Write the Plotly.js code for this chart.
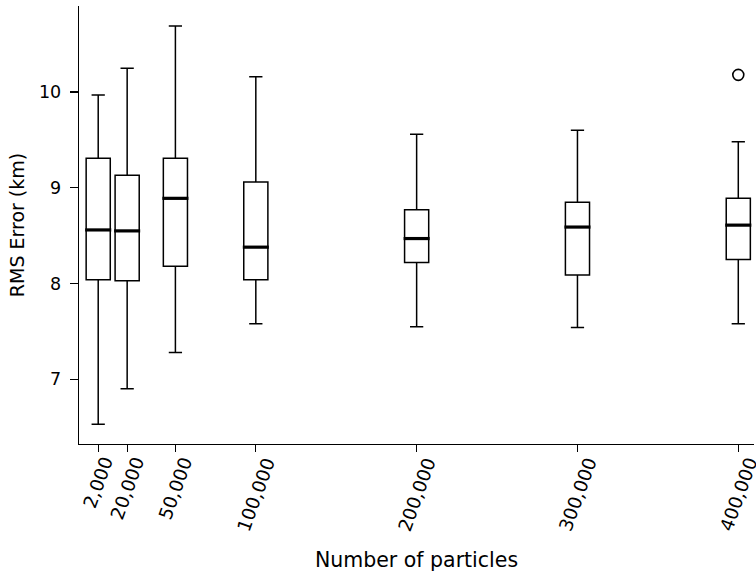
<!DOCTYPE html>
<html>
<head>
<meta charset="utf-8">
<script src="https://cdn.plot.ly/plotly-3.0.1.min.js"></script>
<style>html,body{margin:0;padding:0;background:#fff;}#chart{width:756px;height:577px;}</style>
</head>
<body>
<div id="chart"></div>
<script>
const particles = [2000, 20000, 50000, 100000, 200000, 300000, 400000];
const tickLabels = ["2,000", "20,000", "50,000", "100,000", "200,000", "300,000", "400,000"];
const lowerWhisker = [6.53, 6.90, 7.28, 7.58, 7.55, 7.54, 7.58];
const q1 = [8.04, 8.03, 8.18, 8.04, 8.22, 8.09, 8.25];
const median = [8.56, 8.55, 8.89, 8.38, 8.47, 8.59, 8.61];
const q3 = [9.31, 9.13, 9.31, 9.06, 8.77, 8.85, 8.89];
const upperWhisker = [9.97, 10.25, 10.69, 10.16, 9.56, 9.60, 9.48];
const outlierX = [400000];
const outlierY = [10.18];

const boxWidth = 15000;
const FONT = "DejaVu Sans, sans-serif";

const traces = [{
  type: "box",
  x: particles,
  q1: q1,
  median: median,
  q3: q3,
  lowerfence: lowerWhisker,
  upperfence: upperWhisker,
  width: boxWidth,
  whiskerwidth: 0.55,
  fillcolor: "rgba(0,0,0,0)",
  line: {color: "#000", width: 1.5},
  hoverinfo: "skip",
  showlegend: false
}];

// thick median bars derived from data
const mx = [], my = [];
particles.forEach((p, i) => {
  mx.push(p - boxWidth / 2 - 600, p + boxWidth / 2 + 600, null);
  my.push(median[i], median[i], null);
});
traces.push({
  type: "scatter", mode: "lines", x: mx, y: my,
  line: {color: "#000", width: 3.2},
  hoverinfo: "skip", showlegend: false
});
traces.push({
  type: "scatter", mode: "markers", x: outlierX, y: outlierY,
  marker: {symbol: "circle-open", size: 11, color: "#000", line: {width: 1.6, color: "#000"}},
  hoverinfo: "skip", showlegend: false
});

const annotations = particles.map((p, i) => ({
  x: p, xref: "x", y: 0, yref: "paper",
  text: tickLabels[i], showarrow: false,
  textangle: -70, xanchor: "center", yanchor: "top", yshift: -9,
  borderpad: 0,
  font: {family: FONT, size: 18.5, color: "#000"}
}));

const layout = {
  width: 756, height: 577,
  margin: {l: 79, r: 2, t: 6, b: 133},
  paper_bgcolor: "#fff", plot_bgcolor: "#fff",
  font: {family: FONT, color: "#000"},
  showlegend: false,
  xaxis: {
    range: [-9944, 409770],
    tickvals: particles,
    showticklabels: false,
    ticks: "outside", ticklen: 7, tickwidth: 1.3, tickcolor: "#000",
    showline: true, linecolor: "#000", linewidth: 1.3,
    showgrid: false, zeroline: false,
    title: {text: "Number of particles", font: {family: FONT, size: 20.5, color: "#000"}, standoff: 101},
    automargin: false
  },
  yaxis: {
    range: [6.324, 10.899],
    tickvals: [7, 8, 9, 10],
    ticktext: ["7", "8", "9", "10"],
    ticks: "outside", ticklen: 8, tickwidth: 1.3, tickcolor: "#000",
    ticklabelstandoff: 5,
    tickfont: {family: FONT, size: 17.5, color: "#000"},
    showline: true, linecolor: "#000", linewidth: 1.3,
    showgrid: false, zeroline: false,
    title: {text: "RMS Error (km)", font: {family: FONT, size: 19, color: "#000"}, standoff: 9},
    automargin: false
  },
  annotations: annotations
};

Plotly.newPlot("chart", traces, layout, {displayModeBar: false, staticPlot: true});
</script>
</body>
</html>
